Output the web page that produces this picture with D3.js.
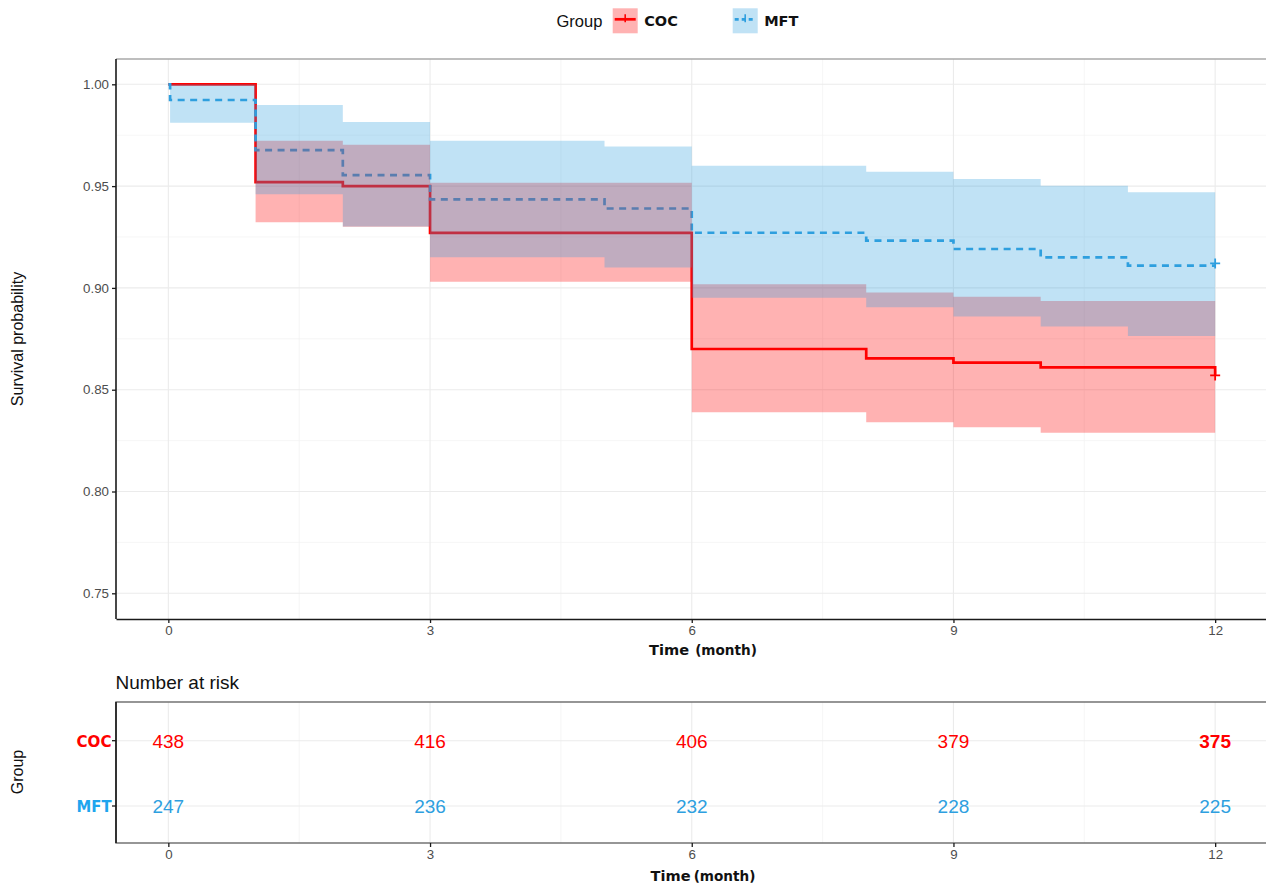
<!DOCTYPE html>
<html>
<head>
<meta charset="utf-8">
<script src="https://cdn.jsdelivr.net/npm/d3@7"></script>
<style>
  html, body { margin: 0; padding: 0; background: #fff; }
  svg { display: block; }
  text { font-family: "Liberation Sans", Arial, sans-serif; }
</style>
</head>
<body>
<svg id="chart" width="1266" height="887"></svg>
<script>
// ---------------- DATA ----------------
const groups = ["COC", "MFT"];
const groupColors = ["#FF0000", "#2E9FDF"];

const cocTime  = [0, 1, 2, 3, 6, 8, 9, 10, 12];
const cocSurv  = [1.000, 0.952, 0.950, 0.927, 0.870, 0.8654, 0.8633, 0.861, 0.857];
const cocUpper = [1.000, 0.9723, 0.9703, 0.9517, 0.9018, 0.8978, 0.8957, 0.8936, 0.8936];
const cocLower = [1.000, 0.9322, 0.9300, 0.9030, 0.8389, 0.8340, 0.8315, 0.8289, 0.8289];

const mftTime  = [0, 0.02, 1, 2, 3, 5, 6, 8, 9, 10, 11, 12];
const mftSurv  = [1.000, 0.9923, 0.9677, 0.9554, 0.9435, 0.9390, 0.9271, 0.9232, 0.9191, 0.9150, 0.9109, 0.9109];
const mftUpper = [1.000, 1.000, 0.9898, 0.9815, 0.9723, 0.9694, 0.9600, 0.9570, 0.9535, 0.9502, 0.9470, 0.9470];
const mftLower = [1.000, 0.9811, 0.9460, 0.9302, 0.9150, 0.9100, 0.8952, 0.8905, 0.8859, 0.8810, 0.8764, 0.8764];

const censorTime = [12, 12];
const censorSurv = [0.857, 0.912];

const xTicks = [0, 3, 6, 9, 12];
const xMinor = [1.5, 4.5, 7.5, 10.5];
const yTicks = [0.75, 0.80, 0.85, 0.90, 0.95, 1.00];
const yMinor = [0.775, 0.825, 0.875, 0.925, 0.975];

const riskTimes = [0, 3, 6, 9, 12];
const riskCOC = [438, 416, 406, 379, 375];
const riskMFT = [247, 236, 232, 228, 225];
const riskBold = [false, false, false, false, true];

// ---------------- LAYOUT ----------------
const svg = d3.select("#chart");
const P = { left: 116, right: 1267.5, top: 59, bottom: 619 };
const R = { top: 702, bottom: 843 };

const x = d3.scaleLinear().domain([-0.6, 12.6]).range([P.left, P.right]);
const y = d3.scaleLinear().domain([0.73738, 1.01243]).range([P.bottom, P.top]);
const yr = d3.scalePoint().domain(groups).range([740.7, 806]);

const tickCol = "#4D4D4D";

svg.append("defs").append("clipPath").attr("id", "clipMain")
  .append("rect").attr("x", P.left).attr("y", P.top)
  .attr("width", P.right - P.left).attr("height", P.bottom - P.top);

// ---------------- MAIN GRID ----------------
const gGrid = svg.append("g");
gGrid.selectAll(".vmin").data(xMinor).join("line")
  .attr("x1", d => x(d)).attr("x2", d => x(d)).attr("y1", P.top).attr("y2", P.bottom)
  .attr("stroke", "#F2F2F2").attr("stroke-width", 0.7);
gGrid.selectAll(".hmin").data(yMinor).join("line")
  .attr("x1", P.left).attr("x2", P.right).attr("y1", d => y(d)).attr("y2", d => y(d))
  .attr("stroke", "#F2F2F2").attr("stroke-width", 0.7);
gGrid.selectAll(".vmaj").data(xTicks).join("line")
  .attr("x1", d => x(d)).attr("x2", d => x(d)).attr("y1", P.top).attr("y2", P.bottom)
  .attr("stroke", "#EBEBEB").attr("stroke-width", 1.1);
gGrid.selectAll(".hmaj").data(yTicks).join("line")
  .attr("x1", P.left).attr("x2", P.right).attr("y1", d => y(d)).attr("y2", d => y(d))
  .attr("stroke", "#EBEBEB").attr("stroke-width", 1.1);

// ---------------- CURVES ----------------
const series = [
  { t: cocTime, s: cocSurv, u: cocUpper, l: cocLower, color: groupColors[0], dash: null },
  { t: mftTime, s: mftSurv, u: mftUpper, l: mftLower, color: groupColors[1], dash: "7,5.5" }
];
const lineGen = d3.line().x(d => x(d[0])).y(d => y(d[1])).curve(d3.curveStepAfter);
const areaGen = d3.area().x(d => x(d[0])).y0(d => y(d[2])).y1(d => y(d[1])).curve(d3.curveStepAfter);

const gPlot = svg.append("g").attr("clip-path", "url(#clipMain)");
series.forEach((sr, i) => {
  const pts = sr.t.map((t, k) => [t, sr.s[k]]);
  gPlot.append("path").attr("d", lineGen(pts))
    .attr("fill", "none").attr("stroke", sr.color).attr("stroke-width", 2.7)
    .attr("stroke-dasharray", sr.dash);
  const cx = x(censorTime[i]), cy = y(censorSurv[i]);
  gPlot.append("path").attr("d", `M${cx - 5},${cy}H${cx + 5}M${cx},${cy - 5}V${cy + 5}`)
    .attr("stroke", sr.color).attr("stroke-width", 1.8).attr("fill", "none");
});
series.forEach(sr => {
  const pts = sr.t.map((t, k) => [t, sr.u[k], sr.l[k]]);
  gPlot.append("path").attr("d", areaGen(pts))
    .attr("fill", sr.color).attr("fill-opacity", 0.3).attr("stroke", "none");
});

// ---------------- MAIN AXES ----------------
svg.append("line").attr("x1", P.left).attr("x2", P.right).attr("y1", P.top).attr("y2", P.top)
  .attr("stroke", "#A8A8A8").attr("stroke-width", 1.4);
const yAxis = svg.append("g").attr("transform", `translate(${P.left},0)`)
  .call(d3.axisLeft(y).tickValues(yTicks).tickFormat(d3.format(".2f")).tickSize(4).tickSizeOuter(0));
const xAxis = svg.append("g").attr("transform", `translate(0,${P.bottom})`)
  .call(d3.axisBottom(x).tickValues(xTicks).tickFormat(d3.format("d")).tickSize(4).tickSizeOuter(0));
[yAxis, xAxis].forEach(a => {
  a.select(".domain").attr("stroke", "#1A1A1A").attr("stroke-width", 1.6);
  a.selectAll(".tick line").attr("stroke", "#1A1A1A").attr("stroke-width", 1.3);
  a.selectAll(".tick text").attr("fill", tickCol).attr("font-size", 13.3)
    .attr("font-family", "Liberation Sans, Arial, sans-serif");
});
yAxis.select(".domain").attr("d", `M0,${P.top}V${P.bottom}`);
yAxis.selectAll(".tick text").attr("x", -7);
xAxis.selectAll(".tick text").attr("y", 7);

function timeTitle(cx, cy, gap) {
  const t = svg.append("text").attr("x", cx).attr("y", cy).attr("text-anchor", "middle")
    .attr("font-weight", "bold").attr("fill", "#111")
    .style("font-family", "'DejaVu Sans', Verdana, sans-serif");
  t.append("tspan").attr("font-size", 14.6).text("Time");
  t.append("tspan").attr("font-size", 13.6).attr("dx", gap).text("(month)");
}
timeTitle(703, 655, 6);

svg.append("text").attr("transform", `translate(23,339) rotate(-90)`)
  .attr("text-anchor", "middle").attr("font-size", 16).attr("fill", "#111")
  .text("Survival probability");

// ---------------- LEGEND ----------------
svg.append("text").attr("x", 556.5).attr("y", 27).attr("font-size", 16.5).attr("fill", "#111").text("Group");
const legX = [612.7, 732.7];
groups.forEach((g, i) => {
  const bx = legX[i], by = 8.3, bw = 25, bh = 25;
  svg.append("rect").attr("x", bx).attr("y", by).attr("width", bw).attr("height", bh)
    .attr("fill", groupColors[i]).attr("fill-opacity", 0.3);
  const cy = by + 11;
  svg.append("line").attr("x1", bx + 2).attr("x2", bx + bw - 2).attr("y1", cy).attr("y2", cy)
    .attr("stroke", groupColors[i]).attr("stroke-width", 2.7)
    .attr("stroke-dasharray", i === 1 ? "4,3" : null);
  svg.append("path").attr("d", `M${bx + bw / 2},${cy - 5}V${cy + 3}`)
    .attr("stroke", groupColors[i]).attr("stroke-width", 1.6);
  svg.append("text").attr("x", bx + 31.5).attr("y", 26).attr("font-size", 14.5).attr("font-weight", "bold")
    .attr("fill", "#111").style("font-family", "'DejaVu Sans', Verdana, sans-serif").text(g);
});

// ---------------- RISK TABLE ----------------
svg.append("text").attr("x", 115.5).attr("y", 689).attr("font-size", 19).attr("fill", "#111").text("Number at risk");

const gR = svg.append("g");
gR.selectAll(".rvmin").data(xMinor).join("line")
  .attr("x1", d => x(d)).attr("x2", d => x(d)).attr("y1", R.top).attr("y2", R.bottom)
  .attr("stroke", "#F2F2F2").attr("stroke-width", 0.7);
gR.selectAll(".rvmaj").data(xTicks).join("line")
  .attr("x1", d => x(d)).attr("x2", d => x(d)).attr("y1", R.top).attr("y2", R.bottom)
  .attr("stroke", "#EBEBEB").attr("stroke-width", 1.1);
gR.selectAll(".rh").data(groups).join("line")
  .attr("x1", P.left).attr("x2", P.right).attr("y1", d => yr(d)).attr("y2", d => yr(d))
  .attr("stroke", "#EBEBEB").attr("stroke-width", 1.1);

svg.append("rect").attr("x", P.left).attr("y", R.top).attr("width", P.right - P.left + 5)
  .attr("height", R.bottom - R.top).attr("fill", "none").attr("stroke", "#6A6A6A").attr("stroke-width", 1.4);
svg.append("line").attr("x1", P.left).attr("x2", P.left).attr("y1", R.top).attr("y2", R.bottom)
  .attr("stroke", "#1A1A1A").attr("stroke-width", 1.6);

const riskRows = [riskCOC, riskMFT];
groups.forEach((g, gi) => {
  gR.selectAll(".rn" + gi).data(riskTimes).join("text")
    .attr("x", d => x(d)).attr("y", yr(g) + 7)
    .attr("text-anchor", "middle").attr("font-size", 19)
    .attr("font-weight", (d, k) => (gi === 0 && riskBold[k]) ? "bold" : "normal")
    .attr("fill", groupColors[gi])
    .text((d, k) => riskRows[gi][k]);
});

const labCol = ["#FF0000", "#1EA5EE"];
groups.forEach((g, gi) => {
  svg.append("line").attr("x1", P.left - 4).attr("x2", P.left).attr("y1", yr(g)).attr("y2", yr(g))
    .attr("stroke", "#1A1A1A").attr("stroke-width", 1.3);
  svg.append("text").attr("x", P.left - 4.5).attr("y", yr(g) + 6).attr("text-anchor", "end")
    .attr("font-size", 15.5).attr("font-weight", "900").attr("fill", labCol[gi])
    .attr("textLength", 35).attr("lengthAdjust", "spacingAndGlyphs")
    .style("font-family", "'DejaVu Sans', Verdana, sans-serif").text(g);
});

svg.append("text").attr("transform", `translate(23,772) rotate(-90)`)
  .attr("text-anchor", "middle").attr("font-size", 16).attr("fill", "#111").text("Group");

const xAxisR = svg.append("g").attr("transform", `translate(0,${R.bottom})`)
  .call(d3.axisBottom(x).tickValues(riskTimes).tickFormat(d3.format("d")).tickSize(4).tickSizeOuter(0));
xAxisR.select(".domain").remove();
xAxisR.selectAll(".tick line").attr("stroke", "#1A1A1A").attr("stroke-width", 1.3);
xAxisR.selectAll(".tick text").attr("fill", tickCol).attr("font-size", 13.3).attr("y", 7)
  .attr("font-family", "Liberation Sans, Arial, sans-serif");

timeTitle(703, 881, 3);
</script>
</body>
</html>
